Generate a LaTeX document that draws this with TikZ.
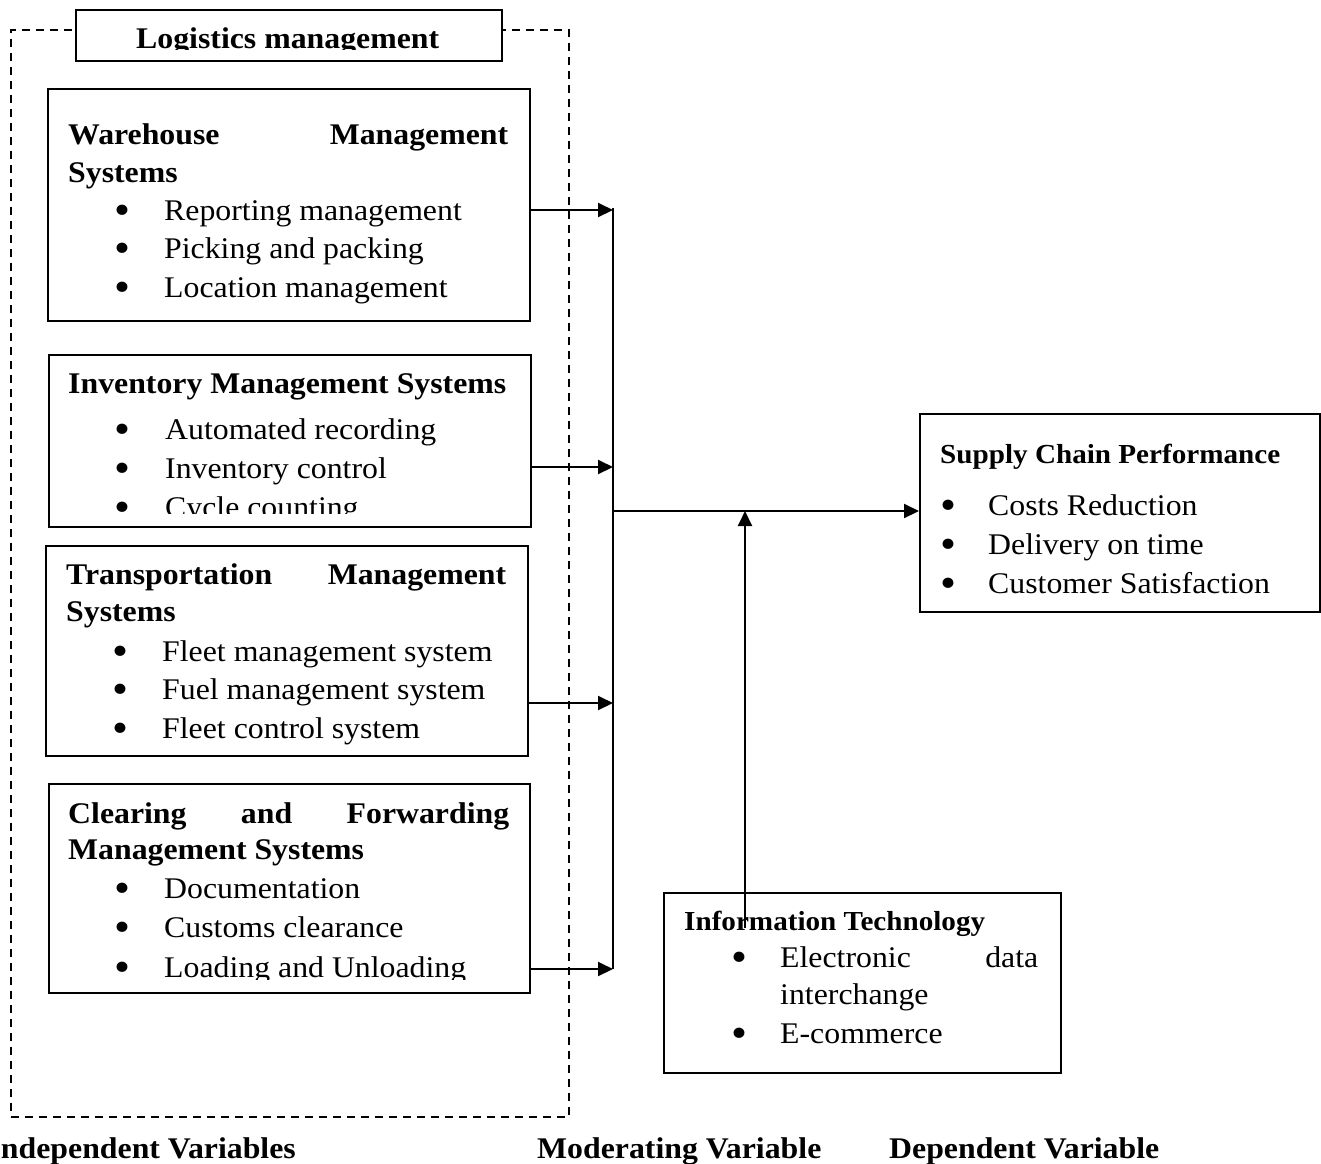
\documentclass[tikz,border=0pt]{standalone}
\usepackage{fontspec}
\setmainfont{Liberation Serif}[FakeStretch=1.06]
\usetikzlibrary{arrows.meta}
\begin{document}
\begin{tikzpicture}[x=1pt,y=-1pt,
  box/.style={draw, line width=2pt, inner sep=0pt, anchor=north west, fill=white},
  txt/.style={inner sep=0pt, anchor=base west, font=\fontsize{30}{36}\selectfont},
  ttl/.style={txt, font=\fontsize{30}{36}\selectfont\bfseries},
  sttl/.style={txt, font=\fontsize{27.5}{33}\selectfont\bfseries},
  bul/.style={inner sep=0pt, anchor=base, font=\fontsize{43}{43}\selectfont},
  arr/.style={line width=2pt, -{Triangle[length=15pt,width=14pt]}},
  ln/.style={line width=2pt}]
\useasboundingbox (0,0) rectangle (1321,1163);

% dashed frame
\node[draw, dash pattern=on 8pt off 6pt, line width=1.8pt, inner sep=0pt,
  anchor=north west, minimum width=558pt, minimum height=1087pt] (frame) at (10,29) {};

% Logistics management header
\node[box, minimum width=426pt, minimum height=51pt] (lmbox) at (75,9) {};
\begin{scope}
\clip (77,11) rectangle (500,49);
\node[ttl] (lmt) at (136,48) {Logistics management};
\end{scope}

% Warehouse box
\node[box, minimum width=482pt, minimum height=232pt] (wms) at (47,88) {};
\node[ttl] (w1) at (68,144) {\makebox[440pt][s]{Warehouse\hfill Management}};
\node[ttl] (w2) at (68,182) {Systems};
\node[bul] (wb1) at (122,224) {•};
\node[txt] (wi1) at (164,220) {Reporting management};
\node[bul] (wb2) at (122,262) {•};
\node[txt] (wi2) at (164,258) {Picking and packing};
\node[bul] (wb3) at (122,301) {•};
\node[txt] (wi3) at (164,297) {Location management};

% Inventory box
\node[box, minimum width=482pt, minimum height=172pt] (ims) at (48,354) {};
\node[ttl] (i1) at (68,393) {Inventory Management Systems};
\node[bul] (ib1) at (122,443) {•};
\node[txt] (ii1) at (165,439) {Automated recording};
\node[bul] (ib2) at (122,482) {•};
\node[txt] (ii2) at (165,478) {Inventory control};
\begin{scope}
\clip (50,490) rectangle (528,513);
\node[bul] (ib3) at (122,521) {•};
\node[txt] (ii3) at (165,517) {Cycle counting};
\end{scope}

% Transportation box
\node[box, minimum width=482pt, minimum height=210pt] (tms) at (45,545) {};
\node[ttl] (t1) at (66,584) {\makebox[440pt][s]{Transportation\hfill Management}};
\node[ttl] (t2) at (66,621) {Systems};
\node[bul] (tb1) at (120,665) {•};
\node[txt] (ti1) at (162,661) {Fleet management system};
\node[bul] (tb2) at (120,703) {•};
\node[txt] (ti2) at (162,699) {Fuel management system};
\node[bul] (tb3) at (120,742) {•};
\node[txt] (ti3) at (162,738) {Fleet control system};

% Clearing box
\node[box, minimum width=481pt, minimum height=209pt] (cfs) at (48,783) {};
\node[ttl] (c1) at (68,823) {\makebox[441pt][s]{Clearing\hfill and\hfill Forwarding}};
\node[ttl] (c2) at (68,859) {Management Systems};
\node[bul] (cb1) at (122,902) {•};
\node[txt] (ci1) at (164,898) {Documentation};
\node[bul] (cb2) at (122,941) {•};
\node[txt] (ci2) at (164,937) {Customs clearance};
\begin{scope}
\clip (50,950) rectangle (527,979);
\node[bul] (cb3) at (122,981) {•};
\node[txt] (ci3) at (164,977) {Loading and Unloading};
\end{scope}

% Supply chain performance box
\node[box, minimum width=400pt, minimum height=198pt] (scp) at (919,413) {};
\node[sttl] (s1) at (940,463) {Supply Chain Performance};
\node[bul] (sb1) at (948,519) {•};
\node[txt] (si1) at (988,515) {Costs Reduction};
\node[bul] (sb2) at (948,558) {•};
\node[txt] (si2) at (988,554) {Delivery on time};
\node[bul] (sb3) at (948,597) {•};
\node[txt] (si3) at (988,593) {Customer Satisfaction};

% Information technology box
\node[box, minimum width=397pt, minimum height=180pt] (itbox) at (663,892) {};
\node[sttl] (it1) at (684,930) {Information Technology};
\node[bul] (itb1) at (739,971) {•};
\node[txt] (iti1) at (780,967) {\makebox[258pt][s]{Electronic\hfill data}};
\node[txt] (iti2) at (780,1004) {interchange};
\node[bul] (itb2) at (739,1047) {•};
\node[txt] (iti3) at (780,1043) {E-commerce};

% connectors
\coordinate (vt) at (613,208);
\coordinate (vb) at (613,969);
\coordinate (j1) at (613,210);
\coordinate (j2) at (613,467);
\coordinate (j3) at (613,703);
\coordinate (j4) at (613,969);
\coordinate (jm) at (613,511);
\coordinate (itb) at (745,928);
\coordinate (itt) at (745,511);
\draw[ln] (vt) -- (vb);
\draw[arr] (wms.east |- j1) -- (j1);
\draw[arr] (ims.east |- j2) -- (j2);
\draw[arr] (tms.east |- j3) -- (j3);
\draw[arr] (cfs.east |- j4) -- (j4);
\draw[arr] (jm) -- (jm -| scp.west);
\draw[arr] (itb) -- (itt);

% bottom labels
\node[ttl, anchor=base east] (lab1) at (296,1158) {Independent Variables};
\node[ttl] (lab2) at (537,1158) {Moderating Variable};
\node[ttl] (lab3) at (889,1158) {Dependent Variable};
\end{tikzpicture}
\end{document}
